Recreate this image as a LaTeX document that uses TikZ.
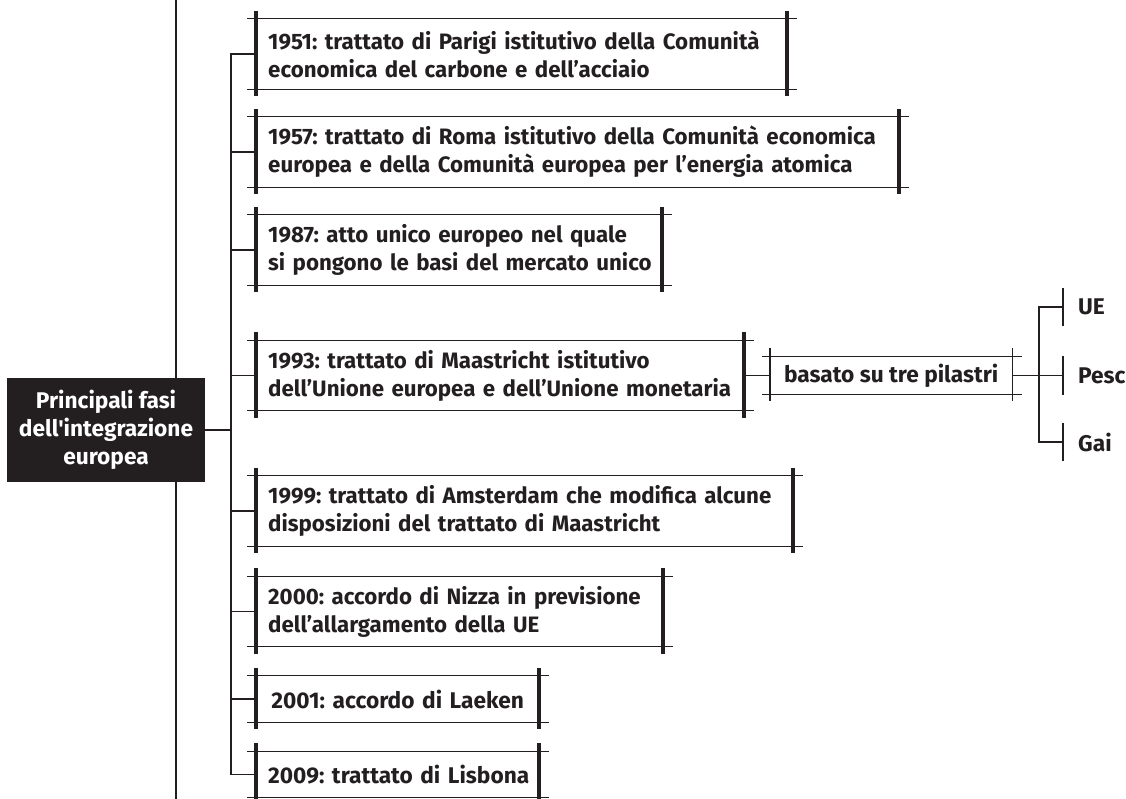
\documentclass[tikz,border=0pt]{standalone}
\usepackage{fontspec}
\setmainfont{Fira Sans}[Ligatures=TeXOff]
\usetikzlibrary{calc}
\definecolor{ink}{HTML}{231F20}
\frenchspacing
\begin{document}
\frenchspacing
\begin{tikzpicture}[x=1pt,y=1pt,
  every node/.style={text=ink, font=\bfseries\fontsize{22.7}{28}\selectfont},
  stagefont/.style={font=\bfseries\fontsize{22.3}{28}\selectfont},
  stage/.style={stagefont, anchor=west, inner xsep=12pt, inner ysep=0pt, minimum height=70pt, align=left},
  single/.style={anchor=west, inner xsep=12pt, inner ysep=0pt, minimum height=46pt, align=center},
  leaf/.style={anchor=west, inner xsep=15pt, inner ysep=0pt, minimum height=38pt},
  thinline/.style={draw=ink, line width=1.3pt},
  conn/.style={draw=ink, line width=1.3pt},
  thickbar/.style={draw=ink, line width=4pt},
  vline/.style={draw=ink, line width=2pt}
]
\useasboundingbox (0,0) rectangle (1126,-799);
\coordinate (lt) at (176,0);
\coordinate (lb) at (176,-805);
\draw[vline] (lt) -- (lb);
\node[fill=ink, text=white, minimum width=198pt, minimum height=104pt, inner sep=0pt, align=center] (root) at (106,-430)
  {Principali fasi\\dell'integrazione\\europea};

\node[stage, text width=507pt] (b1) at (256,-54)
  {\mbox{1951: trattato di Parigi istitutivo della Comunità}\\\mbox{economica del carbone e dell’acciaio}};
\node[stage, text width=619pt] (b2) at (256,-152)
  {\mbox{1957: trattato di Roma istitutivo della Comunità economica}\\\mbox{europea e della Comunità europea per l’energia atomica}};
\node[stage, text width=382pt] (b3) at (256,-250)
  {\mbox{1987: atto unico europeo nel quale}\\\mbox{si pongono le basi del mercato unico}};
\node[stage, text width=464pt] (b4) at (256,-375.5)
  {\mbox{1993: trattato di Maastricht istitutivo}\\\mbox{dell’Unione europea e dell’Unione monetaria}};
\node[stage, text width=513pt] (b5) at (256,-511)
  {\mbox{1999: trattato di Amsterdam che modifica alcune}\\\mbox{disposizioni del trattato di Maastricht}};
\node[stage, text width=383pt] (b6) at (256,-611.5)
  {\mbox{2000: accordo di Nizza in previsione}\\\mbox{dell’allargamento della UE}};
\node[single, text width=259pt] (b7) at (256,-699)
  {\mbox{2001: accordo di Laeken}};
\node[single, text width=259pt] (b8) at (256,-774.5)
  {\mbox{2009: trattato di Lisbona}};

\foreach \b in {b1,b2,b3,b4,b5,b6,b7,b8} {
  \draw[thinline] ([xshift=-9pt]\b.north west) -- ([xshift=10pt]\b.north east);
  \draw[thinline] ([xshift=-9pt]\b.south west) -- ([xshift=10pt]\b.south east);
  \draw[thickbar] ([yshift=8pt]\b.north west) -- ([yshift=-7pt]\b.south west);
  \draw[thickbar] ([yshift=8pt]\b.north east) -- ([yshift=-7pt]\b.south east);
}

\coordinate (sp) at (231,-430);
\draw[conn] (root.east) -- (sp);
\foreach \b in {b1,b2,b3,b4,b5,b6,b7,b8} {
  \draw[conn] (sp) |- (\b.west);
}

\node[anchor=west, inner sep=0pt, minimum width=242pt, minimum height=38pt] (p) at (770,-375.5) {basato su tre pilastri};
\draw[thinline] ([xshift=-8pt]p.north west) -- ([xshift=10pt]p.north east);
\draw[thinline] ([xshift=-8pt]p.south west) -- ([xshift=10pt]p.south east);
\draw[thinline] ([yshift=8pt]p.north west) -- ([yshift=-6pt]p.south west);
\draw[thinline] ([yshift=8pt]p.north east) -- ([yshift=-6pt]p.south east);
\draw[conn] (b4.east) -- (p.west);

\node[leaf] (ue) at (1063,-307) {UE};
\node[leaf] (pesc) at (1063,-375.5) {Pesc};
\node[leaf] (gai) at (1063,-442) {Gai};
\foreach \l in {ue,pesc,gai} {
  \draw[thinline] (\l.north west) -- (\l.south west);
}
\coordinate (sp2) at (1039,-375.5);
\draw[conn] (p.east) -- (sp2);
\foreach \l in {ue,pesc,gai} {
  \draw[conn] (sp2) |- (\l.west);
}
\end{tikzpicture}
\end{document}
